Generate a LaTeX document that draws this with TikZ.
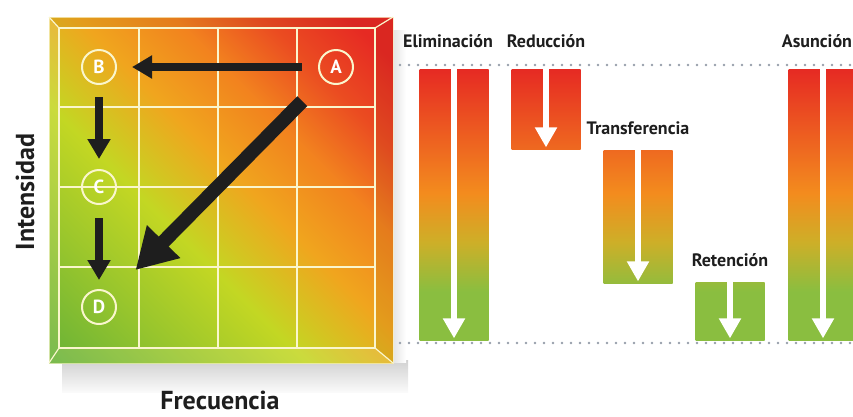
\documentclass[tikz,border=0pt]{standalone}
\usepackage{fontspec}
\setmainfont{PT Sans}
\usetikzlibrary{arrows.meta,positioning}
\definecolor{rojo}{RGB}{230,42,35}
\definecolor{naranja}{RGB}{243,140,30}
\definecolor{mostaza}{RGB}{205,175,40}
\definecolor{verde}{RGB}{138,190,64}
\definecolor{lima}{RGB}{195,215,35}
\definecolor{verdeosc}{RGB}{105,178,55}
\definecolor{crema}{RGB}{250,246,205}
\definecolor{tinta}{RGB}{30,30,30}
\definecolor{puntos}{RGB}{150,158,170}
\pgfdeclareverticalshading{degradado}{100bp}{color(0bp)=(verde); color(34bp)=(verde); color(43bp)=(mostaza); color(52bp)=(naranja); color(75bp)=(rojo); color(100bp)=(rojo)}
\pgfdeclareverticalshading{matriz}{100bp}{color(0bp)=(verdeosc); color(15bp)=(verdeosc); color(29bp)=(verdeosc!45!lima); color(41bp)=(lima); color(53bp)=(rgb,255:red,240;green,165;blue,30); color(63bp)=(naranja!90!rojo); color(72bp)=(naranja!35!rojo); color(81bp)=(rojo); color(100bp)=(rojo)}
\tikzset{node distance=120pt, auto,
  letra/.style={circle, draw=crema, line width=2pt, minimum size=34pt, inner sep=0pt, text=white, font=\bfseries\fontsize{19}{19}\selectfont},
  flecha/.style={draw=tinta, line width=8pt, -{Triangle[length=20pt,width=22pt]}},
  barra/.style={anchor=north, minimum width=69pt, inner sep=0pt,
    path picture={\shade[shading=degradado] ([xshift=-1pt]path picture bounding box.west |- arriba) rectangle ([xshift=1pt]path picture bounding box.east |- abajo);}},
  blanca/.style={draw=white, line width=6pt, -{Triangle[length=20pt,width=21pt]}},
  titulo/.style={text=tinta, font=\bfseries\fontsize{18}{18}\selectfont, inner sep=0pt},
  eje/.style={text=tinta, font=\bfseries\fontsize{26}{26}\selectfont, inner sep=0pt},
  rejilla/.style={draw=crema, line width=2pt},
  puntos/.style={draw=puntos, line width=2.8pt, dash pattern=on 0pt off 9pt, line cap=round}}

\begin{document}
\begin{tikzpicture}[x=1pt, y=-1pt]
  \useasboundingbox (0,0) rectangle (853,416);
  \shade[top color=black!18, bottom color=black!2] (62,360) rectangle (408,392);
  \shade[left color=black!13, right color=white] (390,30) rectangle (406,362);
  \shade[shading=matriz, shading angle=-45] (49,17) rectangle (393,363);
  \fill[white, opacity=.12] (49,17) -- (59,28) -- (59,348) -- (49,363) -- cycle;
  \fill[white, opacity=.12] (49,363) -- (59,348) -- (375,348) -- (393,363) -- cycle;
  \fill[black, opacity=.05] (49,17) -- (393,17) -- (375,28) -- (59,28) -- cycle;
  \fill[black, opacity=.05] (393,17) -- (393,363) -- (375,348) -- (375,28) -- cycle;
  \draw[crema, opacity=.7, line width=1pt] (49,17) rectangle (393,363);
  \draw[crema, line width=1.2pt] (49,17) -- (59,28) (393,17) -- (375,28) (393,363) -- (375,348) (49,363) -- (59,348);
  \draw[rejilla] (59,28) rectangle (375,348);
  \foreach \x in {139,218,297} \draw[rejilla] (\x,28) -- (\x,348);
  \foreach \y in {107,187,267} \draw[rejilla] (59,\y) -- (375,\y);

  \node[letra] (A) at (336,67) {A};
  \node[letra] (B) at (99,67) {B};
  \node[letra] (C) [below of=B] {C};
  \node[letra] (D) [below of=C] {D};
  \draw[flecha, shorten <=16pt, shorten >=15pt] (A) -- (B);
  \draw[flecha, shorten <=12pt, shorten >=10pt] (B) -- (C);
  \draw[flecha, shorten <=13pt, shorten >=9pt] (C) -- (D);
  \draw[flecha, line width=14pt, -{Triangle[length=40pt,width=44pt]}, shorten <=30pt, shorten >=34pt] (A) -- (D);

  \node[eje, rotate=90] (int) at (25,192) {Intensidad};
  \node[eje] (frec) at (220,400) {Frecuencia};

  \coordinate (arriba) at (0,69);
  \coordinate (abajo) at (0,340);
  \draw[puntos] (400,65) -- (853,65);
  \draw[puntos] (400,343) -- (853,343);
  \node[barra, minimum height=271pt] (elim) at (454,69) {};
  \node[barra, minimum height=80pt] (red) at (546,69) {};
  \node[barra, minimum height=133pt] (trans) at (638,150) {};
  \node[barra, minimum height=58pt] (ret) at (730,282) {};
  \node[barra, minimum height=271pt] (asun) at (823,69) {};
  \foreach \b in {elim,red,trans,ret,asun} \draw[blanca, shorten >=2pt] (\b.north) -- (\b.south);

  \node[titulo, above=21pt of elim, xshift=-6pt] (telim) {Eliminación};
  \node[titulo, above=21pt of red] (tred) {Reducción};
  \node[titulo, above=15pt of trans] (ttrans) {Transferencia};
  \node[titulo, above=15pt of ret] (tret) {Retención};
  \node[titulo, above=21pt of asun, xshift=-6pt] (tasun) {Asunción};
\end{tikzpicture}
\end{document}
